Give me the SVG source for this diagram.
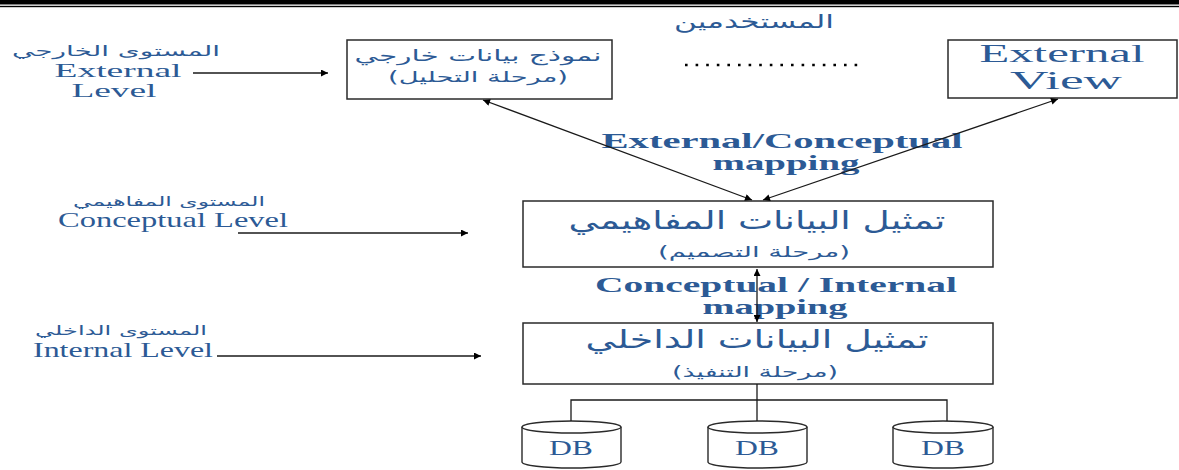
<svg xmlns="http://www.w3.org/2000/svg" width="1179" height="470" viewBox="0 0 1179 470">
<defs>
<style>
.en{font-family:"Liberation Serif","Times New Roman",serif;fill:#2c5a95}
.enb{font-family:"Liberation Serif","Times New Roman",serif;fill:#2c5a95;font-weight:bold}
.ar{font-family:"DejaVu Sans","Noto Sans",sans-serif;fill:#2c5a95}
.box{fill:#fff;stroke:#2a2a2a;stroke-width:1.5}
.ln{fill:none;stroke:#1a1a1a;stroke-width:1.3}
.cyl{fill:#fff;stroke:#2a2a2a;stroke-width:1.4}
</style>
<marker id="ah" viewBox="0 0 10 10" refX="10" refY="5" markerWidth="9" markerHeight="7" markerUnits="userSpaceOnUse" orient="auto-start-reverse">
<path d="M0,0 L10,5 L0,10 z" fill="#000"/>
</marker>
</defs>
<rect width="1179" height="470" fill="#fff"/>
<g id="top-rule">
<rect x="0" y="0" width="1179" height="4.5" fill="#000"/>
<rect x="0" y="5.8" width="1179" height="1.4" fill="#000"/>
</g>
<g id="users-title">
<text class="ar" x="754" y="28" font-size="19" text-anchor="middle" textLength="160" lengthAdjust="spacingAndGlyphs">المستخدمين</text>
</g>
<g id="level-external">
<text class="ar" x="116" y="56" font-size="14" text-anchor="middle" textLength="208" lengthAdjust="spacingAndGlyphs">المستوى الخارجي</text>
<text class="en" x="118" y="77" font-size="19" text-anchor="middle" textLength="127" lengthAdjust="spacingAndGlyphs">External</text>
<text class="en" x="114" y="97" font-size="19" text-anchor="middle" textLength="85" lengthAdjust="spacingAndGlyphs">Level</text>
</g>
<g id="level-conceptual">
<text class="ar" x="169" y="206" font-size="13" text-anchor="middle" textLength="192" lengthAdjust="spacingAndGlyphs">المستوى المفاهيمي</text>
<text class="en" x="173" y="227" font-size="21" text-anchor="middle" textLength="230" lengthAdjust="spacingAndGlyphs">Conceptual Level</text>
</g>
<g id="level-internal">
<text class="ar" x="121" y="335" font-size="13" text-anchor="middle" textLength="172" lengthAdjust="spacingAndGlyphs">المستوى الداخلي</text>
<text class="en" x="123" y="357" font-size="21" text-anchor="middle" textLength="180" lengthAdjust="spacingAndGlyphs">Internal Level</text>
</g>
<g id="node-external-model">
<rect class="box" x="347" y="40" width="265" height="59"/>
<text class="ar" x="478" y="61" font-size="16" text-anchor="middle" textLength="247" lengthAdjust="spacingAndGlyphs">نموذج بيانات خارجي</text>
<text class="ar" x="478" y="82" font-size="15" text-anchor="middle" textLength="180" lengthAdjust="spacingAndGlyphs">(مرحلة التحليل)</text>
</g>
<g id="node-ellipsis">
<line x1="685" y1="65" x2="863" y2="65" stroke="#000" stroke-width="2.6" stroke-dasharray="2.6 8"/>
</g>
<g id="node-external-view">
<rect class="box" x="948" y="40" width="229" height="58"/>
<text class="en" x="1062" y="62" font-size="26" text-anchor="middle" textLength="165" lengthAdjust="spacingAndGlyphs">External</text>
<text class="en" x="1066" y="89" font-size="26" text-anchor="middle" textLength="112" lengthAdjust="spacingAndGlyphs">View</text>
</g>
<g id="label-ext-conc">
<text class="enb" x="782" y="148" font-size="21" text-anchor="middle" textLength="361" lengthAdjust="spacingAndGlyphs">External/Conceptual</text>
<text class="enb" x="786" y="170" font-size="21" text-anchor="middle" textLength="147" lengthAdjust="spacingAndGlyphs">mapping</text>
</g>
<g id="node-conceptual">
<rect class="box" x="523" y="201" width="470" height="66"/>
<text class="ar" x="757" y="229" font-size="25" text-anchor="middle" textLength="377" lengthAdjust="spacingAndGlyphs">تمثيل البيانات المفاهيمي</text>
<text class="ar" x="754" y="257" font-size="15" text-anchor="middle" textLength="192" lengthAdjust="spacingAndGlyphs">(مرحلة التصميم)</text>
</g>
<g id="label-conc-int">
<text class="enb" x="776" y="292" font-size="21" text-anchor="middle" textLength="362" lengthAdjust="spacingAndGlyphs">Conceptual / Internal</text>
<text class="enb" x="775" y="314" font-size="21" text-anchor="middle" textLength="145" lengthAdjust="spacingAndGlyphs">mapping</text>
</g>
<g id="node-internal">
<rect class="box" x="523" y="323" width="470" height="61"/>
<text class="ar" x="757" y="348" font-size="25" text-anchor="middle" textLength="343" lengthAdjust="spacingAndGlyphs">تمثيل البيانات الداخلي</text>
<text class="ar" x="755" y="377" font-size="15" text-anchor="middle" textLength="166" lengthAdjust="spacingAndGlyphs">(مرحلة التنفيذ)</text>
</g>
<g id="db1">
<path class="cyl" d="M522,427 V462 A49.5,6 0 0 0 621,462 V427"/>
<ellipse class="cyl" cx="571.5" cy="427" rx="49.5" ry="6"/>
<text class="en" x="571" y="455" font-size="22" text-anchor="middle" textLength="44" lengthAdjust="spacingAndGlyphs">DB</text>
</g>
<g id="db2">
<path class="cyl" d="M708,427 V462 A49.5,6 0 0 0 807,462 V427"/>
<ellipse class="cyl" cx="757.5" cy="427" rx="49.5" ry="6"/>
<text class="en" x="757" y="455" font-size="22" text-anchor="middle" textLength="44" lengthAdjust="spacingAndGlyphs">DB</text>
</g>
<g id="db3">
<path class="cyl" d="M893,427 V462 A50,6 0 0 0 993,462 V427"/>
<ellipse class="cyl" cx="943" cy="427" rx="50" ry="6"/>
<text class="en" x="943" y="455" font-size="22" text-anchor="middle" textLength="44" lengthAdjust="spacingAndGlyphs">DB</text>
</g>
<g id="connectors">
<line class="ln" x1="193" y1="73" x2="328" y2="73" marker-end="url(#ah)"/>
<line class="ln" x1="238" y1="233" x2="468" y2="233" marker-end="url(#ah)"/>
<line class="ln" x1="217" y1="356" x2="481" y2="356" marker-end="url(#ah)"/>
<line class="ln" x1="483" y1="100" x2="752" y2="200" marker-start="url(#ah)" marker-end="url(#ah)"/>
<line class="ln" x1="1058" y1="99" x2="763" y2="200" marker-start="url(#ah)" marker-end="url(#ah)"/>
<line class="ln" x1="757" y1="269" x2="757" y2="322" marker-start="url(#ah)" marker-end="url(#ah)"/>
<polyline class="ln" points="757,384 757,400"/>
<polyline class="ln" points="571,421 571,400 947,400 947,421"/>
<line class="ln" x1="757" y1="400" x2="757" y2="421"/>
</g>
</svg>
